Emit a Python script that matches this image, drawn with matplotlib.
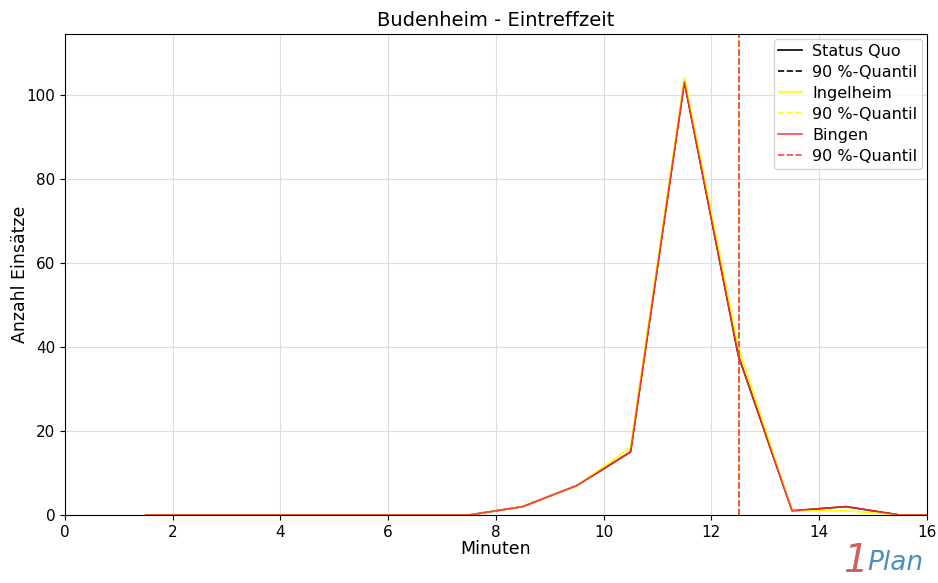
import numpy as np
import matplotlib
matplotlib.use("Agg")
import matplotlib.pyplot as plt

minuten = [1.5, 2.5, 3.5, 4.5, 5.5, 6.5, 7.5, 8.5, 9.5, 10.5, 11.5, 12.5, 13.5, 14.5, 15.5, 16.5]
status_quo = [0, 0, 0, 0, 0, 0, 0, 2, 7, 15, 103, 38, 1, 2, 0, 0]
ingelheim = [0, 0, 0, 0, 0, 0, 0, 2, 7, 16, 104, 40, 1, 1, 0, 0]
bingen = [0, 0, 0, 0, 0, 0, 0, 2, 7, 15, 103, 38, 1, 2, 0, 0]
quantil_sq = 12.52
quantil_ing = 12.52
quantil_bin = 12.52

fig = plt.figure(figsize=(9.38, 5.83), dpi=100)
ax = fig.add_axes([0.0693, 0.1166, 0.9187, 0.8251])

ax.plot(minuten, status_quo, color="black", lw=1.2, label="Status Quo")
ax.axvline(quantil_sq, color="black", ls="--", lw=1.2, label="90 %-Quantil")
ax.plot(minuten, ingelheim, color="yellow", lw=1.2, label="Ingelheim")
ax.axvline(quantil_ing, color="yellow", ls="--", lw=1.2, label="90 %-Quantil")
ax.plot(minuten, bingen, color="#ff3030", lw=1.2, alpha=0.9, label="Bingen")
ax.axvline(quantil_bin, color="#ff3030", ls="--", lw=1.2, alpha=0.9, label="90 %-Quantil")

ax.set_xlim(0, 16)
ax.set_ylim(0, max(ingelheim) * 1.1)
ax.grid(True, color="#dddddd", lw=0.8)
ax.tick_params(labelsize=11)
ax.set_title("Budenheim - Eintreffzeit", fontsize=14)
ax.set_xlabel("Minuten", fontsize=12.5, labelpad=0)
ax.set_ylabel("Anzahl Einsätze", fontsize=12.5, labelpad=-2)
ax.legend(loc="upper right", fontsize=11.5, handlelength=1.5, handletextpad=0.6,
          labelspacing=0.38, borderaxespad=0.3, borderpad=0.3)

fig.text(0.925, 0.005, "1", color="#d06060", fontsize=28, style="italic", ha="right", va="bottom")
fig.text(0.925, 0.012, "Plan", color="#4a90b8", fontsize=19, style="italic", ha="left", va="bottom")

fig.savefig("out.png", dpi=100)
